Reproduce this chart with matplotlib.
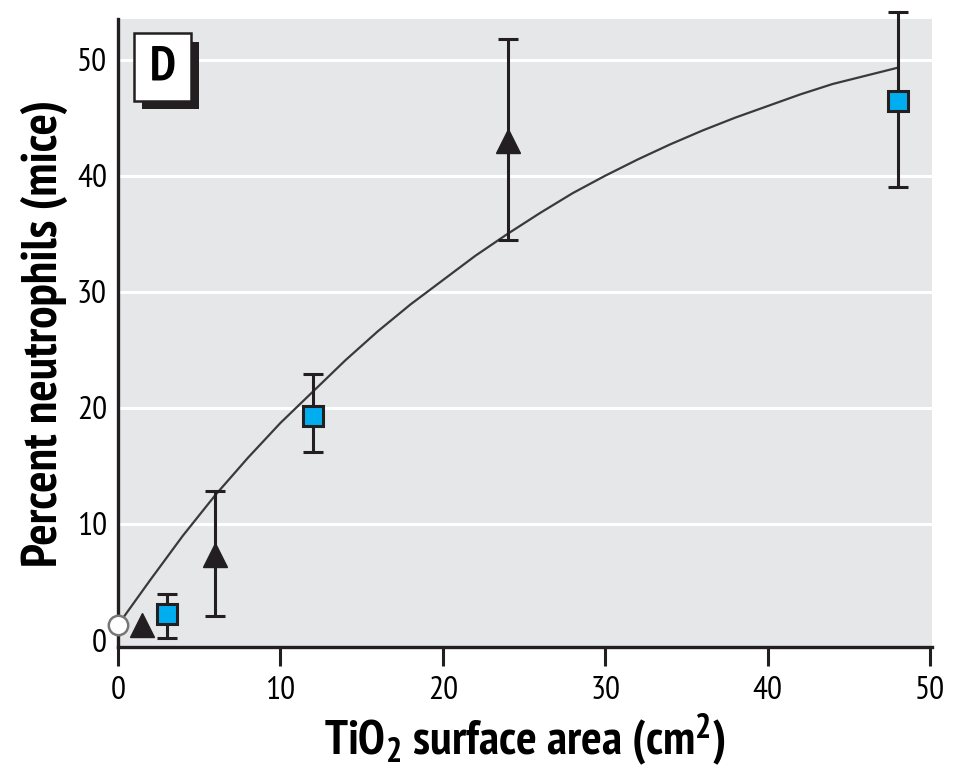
import matplotlib
matplotlib.use("Agg")
from matplotlib import pyplot as plt
from matplotlib import font_manager
from matplotlib.patches import Rectangle


def wnum(w):
    if isinstance(w, str):
        return {'bold': 700, 'heavy': 800, 'black': 900, 'semibold': 600,
                'demibold': 600, 'extra bold': 800, 'light': 300}.get(w.lower(), 400)
    return w


# 找一个正体(非斜体)同时有常规和粗体的窄体字体, 找不到就用 Liberation Sans
fonts = font_manager.fontManager.ttflist
cands = {}
for f in fonts:
    if f.style != 'normal':
        continue
    if 'Narrow' in f.name or 'Condensed' in f.name or f.stretch in ('condensed', 'semi-condensed'):
        cands.setdefault(f.name, set()).add(wnum(f.weight))
good = [n for n, ws in cands.items()
        if any(350 <= w <= 500 for w in ws) and any(650 <= w <= 750 for w in ws)]
good.sort(key=lambda n: (0 if 'Narrow' in n else 1, 'Extra' in n or 'Ultra' in n, n))
if good:
    fam = good[0]
else:
    fam = 'Liberation Sans'

plt.rcParams['font.family'] = [fam, 'DejaVu Sans']
plt.rcParams['mathtext.fontset'] = 'custom'
plt.rcParams['mathtext.rm'] = fam + ':bold'
plt.rcParams['mathtext.default'] = 'rm'

# 数据
ctrl_x = [0]
ctrl_y = [1.3]

tri_x = [1.5, 6, 24]
tri_y = [1.3, 7.3, 43.0]
tri_err_x = [6, 24]
tri_err_y = [7.3, 43.0]
tri_lo = [2.1, 34.5]
tri_hi = [12.8, 51.8]

sq_x = [3, 12, 48]
sq_y = [2.2, 19.3, 46.4]
sq_lo = [0.2, 16.2, 39.0]
sq_hi = [4.0, 22.9, 54.1]

fit_x = [0, 2, 4, 6, 8, 10, 12, 14, 16, 18, 20, 22, 24,
         26, 28, 30, 32, 34, 36, 38, 40, 42, 44, 46, 48]
fit_y = [1.3, 5.2, 9.0, 12.5, 15.7, 18.7, 21.4, 24.1, 26.6, 28.9, 31.0, 33.1, 35.0,
         36.8, 38.5, 40.0, 41.4, 42.7, 43.9, 45.0, 46.0, 47.0, 47.9, 48.6, 49.3]

xticks = [0, 10, 20, 30, 40, 50]
yticks = [0, 10, 20, 30, 40, 50]

fig = plt.figure(figsize=(9.58, 7.76), dpi=100)
ax = fig.add_axes([118 / 958, 1 - 647 / 776, (932 - 118) / 958, (647 - 19) / 776])
ax.set_facecolor('#e6e7e9')
ax.set_xlim(0, 50.12)
ax.set_ylim(-0.6, 53.5)

# 白色网格线
for yv in yticks[1:]:
    ax.axhline(yv, color='white', lw=2.2, zorder=1)

# 拟合曲线
ax.plot(fit_x, fit_y, color='#3a3a3a', lw=1.6, zorder=2)

# 误差棒
ax.errorbar(tri_err_x, tri_err_y,
            yerr=[[y - lo for y, lo in zip(tri_err_y, tri_lo)],
                  [hi - y for y, hi in zip(tri_err_y, tri_hi)]],
            fmt='none', ecolor='#231f20', elinewidth=2.2, capsize=7.5, capthick=2.2,
            zorder=3, clip_on=False)
ax.errorbar(sq_x, sq_y,
            yerr=[[y - lo for y, lo in zip(sq_y, sq_lo)],
                  [hi - y for y, hi in zip(sq_y, sq_hi)]],
            fmt='none', ecolor='#231f20', elinewidth=2.2, capsize=7.5, capthick=2.2,
            zorder=3, clip_on=False)

# 标记点
ax.plot(tri_x, tri_y, '^', color='#231f20', ms=17, zorder=4, clip_on=False)
ax.plot(sq_x, sq_y, 's', mfc='#00aeef', mec='#231f20', mew=2.2, ms=15, zorder=4, clip_on=False)
ax.plot(ctrl_x, ctrl_y, 'o', mfc='white', mec='#777777', mew=1.8, ms=14, zorder=5, clip_on=False)

# 坐标轴
for s in ['top', 'right']:
    ax.spines[s].set_visible(False)
for s in ['left', 'bottom']:
    ax.spines[s].set_linewidth(2.4)
    ax.spines[s].set_color('#231f20')

ax.set_xticks(xticks)
ax.set_yticks(yticks)
ax.tick_params(axis='x', direction='out', length=14, width=2.2, color='#231f20',
               labelsize=24, pad=7)
ax.tick_params(axis='y', length=0, labelsize=24, pad=8)

ax.set_xlabel(r'TiO$_2$ surface area (cm$^2$)', fontsize=35, fontweight='bold', labelpad=4)
ax.set_ylabel('Percent neutrophils (mice)', fontsize=36, fontweight='bold', labelpad=6)

# "D" 面板标签
ax.add_patch(Rectangle((0.029, 0.856), 0.07, 0.108, transform=ax.transAxes,
                       facecolor='#231f20', edgecolor='none', zorder=6, clip_on=False))
ax.add_patch(Rectangle((0.020, 0.869), 0.07, 0.108, transform=ax.transAxes,
                       facecolor='white', edgecolor='#231f20', lw=1.8, zorder=7, clip_on=False))
ax.text(0.055, 0.923, 'D', transform=ax.transAxes, fontsize=35, fontweight='bold',
        ha='center', va='center', zorder=8)

fig.savefig('out.png', dpi=100)
